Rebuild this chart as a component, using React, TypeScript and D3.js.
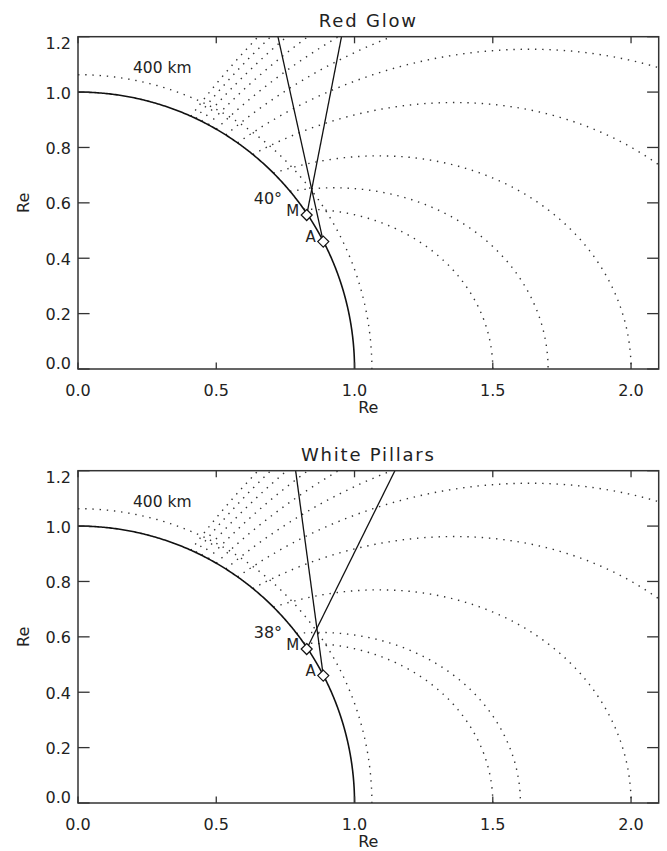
import React from "react";
import * as d3 from "d3";

// ---- data ----
const xTickValues = [0.0, 0.5, 1.0, 1.5, 2.0];
const yTickValues = [0.0, 0.2, 0.4, 0.6, 0.8, 1.0, 1.2];
const panelTitles = ["Red Glow", "White Pillars"];
// dipole field-line L-shells (Re) drawn dotted in each panel
const redGlowL = [1.5, 1.7, 2.0, 2.5, 3.0, 3.5, 4.0, 4.5, 5.0, 5.5, 6.0];
const whitePillarsL = [1.5, 1.6, 2.0, 2.5, 3.0, 3.5, 4.0, 4.5, 5.0, 5.5, 6.0];
const siteNames = ["M", "A"];
const siteX = [0.827, 0.887];
const siteY = [0.556, 0.46];
// x where each site's line of sight reaches y = 1.2 Re
const redGlowRayTopX = [0.953, 0.723];
const whitePillarsRayTopX = [1.146, 0.787];
const angleLabels = ["40°", "38°"];
const shellLabel = "400 km";
const earthRadius = 1.0;
const shellRadius = 1.0628; // 1 + 400/6371
const xDomain = [0, 2.1];
const yDomain = [0, 1.2];

// ---- layout ----
const W = 667;
const H = 851;
const LEFT = 78;
const RIGHT = 658.7;
const PLOT_H = 332.3;
const PANEL_TOPS = [36.7, 470.7];
const FONT = "'DejaVu Sans', 'Liberation Sans', sans-serif";
const INK = "#222";

function fieldLine(L: number): [number, number][] {
  const t0 = Math.asin(Math.sqrt(1 / L));
  const n = 400;
  return d3.range(n + 1).map((i) => {
    const t = t0 + ((Math.PI / 2 - t0) * i) / n;
    const s = Math.sin(t);
    return [L * s * s * s, L * s * s * Math.cos(t)] as [number, number];
  });
}

function arc(r: number): [number, number][] {
  const n = 300;
  return d3.range(n + 1).map((i) => {
    const a = ((Math.PI / 2) * i) / n;
    return [r * Math.sin(a), r * Math.cos(a)] as [number, number];
  });
}

function Panel({
  idx,
  top,
  title,
  Ls,
  rayTopX,
  angleLabel,
}: {
  idx: number;
  top: number;
  title: string;
  Ls: number[];
  rayTopX: number[];
  angleLabel: string;
}) {
  const bottom = top + PLOT_H;
  const x = d3.scaleLinear().domain(xDomain).range([LEFT, RIGHT]);
  const y = d3.scaleLinear().domain(yDomain).range([bottom, top]);
  const line = d3
    .line<[number, number]>()
    .x((d) => x(d[0]))
    .y((d) => y(d[1]));
  const clipId = `clip-${idx}`;
  const xTickLen = 6.6;
  const yTickLen = 11.6;
  const cx = (LEFT + RIGHT) / 2;
  const cy = (top + bottom) / 2;
  const dot = { stroke: "#333", strokeWidth: 1.4, fill: "none", strokeDasharray: "1.4 5.8" };

  return (
    <g>
      <defs>
        <clipPath id={clipId}>
          <rect x={LEFT} y={top} width={RIGHT - LEFT} height={PLOT_H} />
        </clipPath>
      </defs>
      <text x={cx} y={top - 9.5} textAnchor="middle" fontFamily={FONT} fontSize={18} letterSpacing={1.8} fill={INK}>
        {title}
      </text>
      <g clipPath={`url(#${clipId})`}>
        {Ls.map((L) => (
          <path key={L} d={line(fieldLine(L)) || ""} {...dot} />
        ))}
        <path d={line(arc(shellRadius)) || ""} {...dot} />
        <path d={line(arc(earthRadius)) || ""} stroke="#111" strokeWidth={1.6} fill="none" />
        {siteNames.map((n, i) => (
          <line
            key={n}
            x1={x(siteX[i])}
            y1={y(siteY[i])}
            x2={x(rayTopX[i])}
            y2={y(yDomain[1])}
            stroke="#111"
            strokeWidth={1.3}
          />
        ))}
      </g>
      {siteNames.map((n, i) => {
        const px = x(siteX[i]);
        const py = y(siteY[i]);
        const h = 5.5;
        return (
          <g key={n}>
            <path
              d={`M${px},${py - h}L${px + h},${py}L${px},${py + h}L${px - h},${py}Z`}
              fill="white"
              stroke="#111"
              strokeWidth={1.2}
            />
            <text x={px - 7.5} y={py + 0.5} textAnchor="end" fontFamily={FONT} fontSize={15} fill={INK}>
              {n}
            </text>
          </g>
        );
      })}
      <text x={x(0.738)} y={y(0.597)} textAnchor="end" fontFamily={FONT} fontSize={16} fill={INK}>
        {angleLabel}
      </text>
      <text x={133} y={top + 36} fontFamily={FONT} fontSize={15.5} fill={INK}>
        {shellLabel}
      </text>
      {/* frame */}
      <rect x={LEFT} y={top} width={RIGHT - LEFT} height={PLOT_H} fill="none" stroke="#333" strokeWidth={1.5} />
      {xTickValues.map((v) => (
        <g key={`x${v}`}>
          <line x1={x(v)} x2={x(v)} y1={bottom} y2={bottom - xTickLen} stroke="#333" strokeWidth={1.3} />
          <line x1={x(v)} x2={x(v)} y1={top} y2={top + xTickLen} stroke="#333" strokeWidth={1.3} />
          <text x={x(v)} y={bottom + 26.7} textAnchor="middle" fontFamily={FONT} fontSize={16} fill={INK}>
            {v.toFixed(1)}
          </text>
        </g>
      ))}
      {yTickValues.map((v) => {
        const ty = y(v);
        const base = Math.max(top + 12.2, Math.min(bottom, ty + 6.5));
        return (
          <g key={`y${v}`}>
            <line x1={LEFT} x2={LEFT + yTickLen} y1={ty} y2={ty} stroke="#333" strokeWidth={1.3} />
            <line x1={RIGHT} x2={RIGHT - yTickLen} y1={ty} y2={ty} stroke="#333" strokeWidth={1.3} />
            <text x={71} y={base} textAnchor="end" fontFamily={FONT} fontSize={16} fill={INK}>
              {v.toFixed(1)}
            </text>
          </g>
        );
      })}
      <text x={cx} y={bottom + 44} textAnchor="middle" fontFamily={FONT} fontSize={16} fill={INK}>
        Re
      </text>
      <text
        transform={`translate(29,${cy}) rotate(-90)`}
        textAnchor="middle"
        fontFamily={FONT}
        fontSize={16}
        fill={INK}
      >
        Re
      </text>
    </g>
  );
}

export default function App() {
  return (
    <svg
      width={W}
      height={H}
      viewBox={`0 0 ${W} ${H}`}
      style={{ position: "absolute", left: 0, top: 0, background: "white" }}
    >
      <rect width={W} height={H} fill="white" />
      <Panel idx={0} top={PANEL_TOPS[0]} title={panelTitles[0]} Ls={redGlowL} rayTopX={redGlowRayTopX} angleLabel={angleLabels[0]} />
      <Panel idx={1} top={PANEL_TOPS[1]} title={panelTitles[1]} Ls={whitePillarsL} rayTopX={whitePillarsRayTopX} angleLabel={angleLabels[1]} />
    </svg>
  );
}
